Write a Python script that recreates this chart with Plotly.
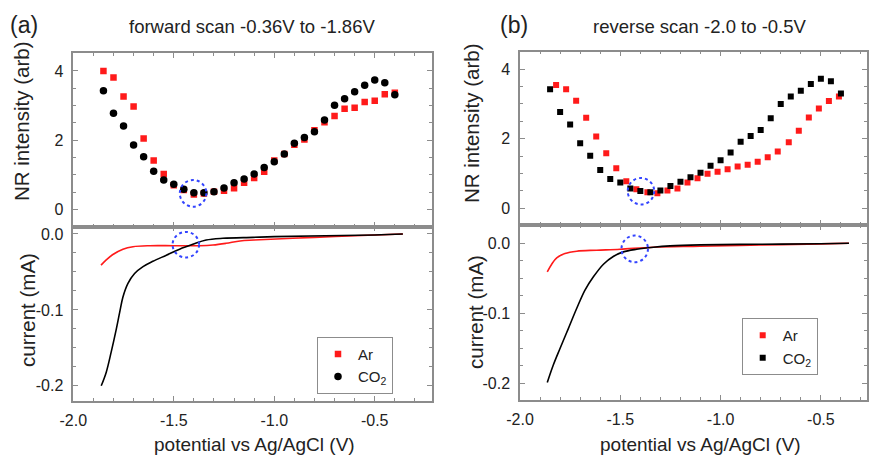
import plotly.graph_objects as go

# ---------------- data ----------------
# NR intensity, panel (a) forward scan
pot_a = [-1.85, -1.80, -1.75, -1.70, -1.65, -1.60, -1.55, -1.50, -1.45, -1.40,
         -1.35, -1.30, -1.25, -1.20, -1.15, -1.10, -1.05, -1.00, -0.95, -0.90,
         -0.85, -0.80, -0.75, -0.70, -0.65, -0.60, -0.55, -0.50, -0.45, -0.40]
nr_a_ar = [4.00, 3.81, 3.26, 2.97, 2.05, 1.41, 1.02, 0.70, 0.56, 0.43,
           0.46, 0.51, 0.54, 0.61, 0.77, 0.91, 1.09, 1.41, 1.60, 1.87,
           2.02, 2.29, 2.52, 2.70, 2.91, 2.94, 3.10, 3.14, 3.33, 3.37]
nr_a_co2 = [3.43, 2.78, 2.41, 1.86, 1.52, 1.10, 0.85, 0.73, 0.58, 0.48,
            0.48, 0.51, 0.62, 0.77, 0.88, 1.02, 1.21, 1.38, 1.60, 1.91,
            2.08, 2.24, 2.58, 3.01, 3.20, 3.40, 3.59, 3.74, 3.66, 3.31]

# NR intensity, panel (b) reverse scan
pot_b_co2 = pot_a
nr_b_co2 = [3.42, 2.77, 2.41, 1.87, 1.51, 1.10, 0.84, 0.74, 0.57, 0.50,
            0.46, 0.51, 0.64, 0.76, 0.89, 1.02, 1.22, 1.38, 1.60, 1.91,
            2.08, 2.25, 2.59, 3.00, 3.21, 3.38, 3.57, 3.72, 3.65, 3.30]
pot_b_ar = [-1.82, -1.77, -1.72, -1.67, -1.62, -1.57, -1.52, -1.47, -1.42, -1.365,
            -1.315, -1.265, -1.215, -1.165, -1.115, -1.065, -1.015, -0.965, -0.915, -0.865,
            -0.815, -0.765, -0.715, -0.66, -0.61, -0.56, -0.51, -0.46, -0.41]
nr_b_ar = [3.54, 3.42, 3.09, 2.60, 2.06, 1.58, 1.15, 0.78, 0.55, 0.46,
           0.43, 0.51, 0.57, 0.74, 0.86, 0.99, 1.05, 1.12, 1.20, 1.25,
           1.34, 1.47, 1.63, 1.90, 2.23, 2.61, 2.87, 3.08, 3.21]

# current curves, panel (a)
cv_a_ar_x = [-1.862, -1.836, -1.803, -1.753, -1.703, -1.62, -1.50, -1.37, -1.305,
             -1.24, -1.17, -1.10, -0.80, -0.50, -0.36]
cv_a_ar_y = [-0.041, -0.034, -0.027, -0.020, -0.0167, -0.0154, -0.0154, -0.0154, -0.0145,
             -0.0123, -0.0092, -0.008, -0.0044, -0.0013, 0.0]
cv_a_co2_x = [-1.861, -1.836, -1.811, -1.789, -1.769, -1.753, -1.728, -1.695, -1.653,
              -1.604, -1.537, -1.471, -1.405, -1.339, -1.256, -1.106, -1.0, -0.5, -0.36]
cv_a_co2_y = [-0.200, -0.182, -0.155, -0.129, -0.103, -0.083, -0.065, -0.052, -0.043,
              -0.036, -0.028, -0.020, -0.0136, -0.008, -0.0057, -0.0044, -0.0035, -0.0013, 0.0]

# current curves, panel (b)
cv_b_ar_x = [-1.864, -1.842, -1.817, -1.776, -1.717, -1.618, -1.501, -1.335, -1.102,
             -0.8, -0.5, -0.36]
cv_b_ar_y = [-0.041, -0.030, -0.021, -0.0148, -0.0114, -0.010, -0.0086, -0.0057, -0.0043,
             -0.0025, -0.001, 0.0]
cv_b_co2_x = [-1.864, -1.834, -1.80, -1.759, -1.717, -1.676, -1.634, -1.584, -1.535,
              -1.485, -1.418, -1.335, -1.252, -1.102, -0.8, -0.5, -0.36]
cv_b_co2_y = [-0.199, -0.174, -0.150, -0.122, -0.093, -0.067, -0.048, -0.030, -0.019,
              -0.0124, -0.0086, -0.0057, -0.0038, -0.0024, -0.0015, -0.0008, 0.0]

x_ticks = [-2.0, -1.5, -1.0, -0.5]
x_tick_text = ["-2.0", "-1.5", "-1.0", "-0.5"]
nr_ticks = [0, 2, 4]
cur_ticks = [0.0, -0.1, -0.2]
cur_tick_text = ["0.0", "-0.1", "-0.2"]

# ---------------- styling ----------------
W, H = 870, 457
RED = "#ff1a1a"
BLK = "#000000"
FRAME = "#8c8c8c"
TXT = "#222222"
FONT = "Liberation Sans, Arial, sans-serif"


def px(xp):
    return xp / W


def py(yp):
    return 1 - yp / H


fig = go.Figure()

# panel (a) top
fig.add_trace(go.Scatter(x=pot_a, y=nr_a_ar, mode="markers", name="Ar",
                         marker=dict(symbol="square", size=6.5, color=RED),
                         xaxis="x", yaxis="y", legend="legend"))
fig.add_trace(go.Scatter(x=pot_a, y=nr_a_co2, mode="markers", name="CO<sub>2</sub>",
                         marker=dict(symbol="circle", size=7.5, color=BLK),
                         xaxis="x", yaxis="y", legend="legend"))
# panel (a) bottom
fig.add_trace(go.Scatter(x=cv_a_ar_x, y=cv_a_ar_y, mode="lines", showlegend=False,
                         line=dict(color=RED, width=1.6, shape="spline"),
                         xaxis="x2", yaxis="y2"))
fig.add_trace(go.Scatter(x=cv_a_co2_x, y=cv_a_co2_y, mode="lines", showlegend=False,
                         line=dict(color=BLK, width=1.6, shape="spline"),
                         xaxis="x2", yaxis="y2"))
# panel (b) top
fig.add_trace(go.Scatter(x=pot_b_ar, y=nr_b_ar, mode="markers", name="Ar",
                         marker=dict(symbol="square", size=6, color=RED),
                         xaxis="x3", yaxis="y3", legend="legend2"))
fig.add_trace(go.Scatter(x=pot_b_co2, y=nr_b_co2, mode="markers", name="CO<sub>2</sub>",
                         marker=dict(symbol="square", size=6, color=BLK),
                         xaxis="x3", yaxis="y3", legend="legend2"))
# panel (b) bottom
fig.add_trace(go.Scatter(x=cv_b_ar_x, y=cv_b_ar_y, mode="lines", showlegend=False,
                         line=dict(color=RED, width=1.6, shape="spline"),
                         xaxis="x4", yaxis="y4"))
fig.add_trace(go.Scatter(x=cv_b_co2_x, y=cv_b_co2_y, mode="lines", showlegend=False,
                         line=dict(color=BLK, width=1.6, shape="spline"),
                         xaxis="x4", yaxis="y4"))

common = dict(showline=True, linecolor=FRAME, linewidth=1.5, mirror="ticks",
              ticks="inside", ticklen=5, tickcolor=FRAME, tickwidth=1,
              showgrid=False, zeroline=False, automargin=False,
              tickfont=dict(family=FONT, size=16, color=TXT))


def xax(domain, rng, anchor, labels):
    d = dict(common)
    d.update(domain=domain, range=rng, anchor=anchor,
             tickvals=x_ticks, ticktext=x_tick_text, showticklabels=labels,
             minor=dict(dtick=0.1, tick0=-2.0, ticks="inside", ticklen=3,
                        tickcolor=FRAME, showgrid=False),
             ticklabelstandoff=4)
    return d


def yax(domain, rng, anchor, vals, text, minor_dt):
    d = dict(common)
    d.update(domain=domain, range=rng, anchor=anchor, tickvals=vals,
             minor=dict(dtick=minor_dt, tick0=0, ticks="inside", ticklen=3,
                        tickcolor=FRAME, showgrid=False),
             ticklabelstandoff=5)
    if text is not None:
        d["ticktext"] = text
    return d


xa_dom = [px(73.3), px(432)]
xb_dom = [px(520), px(867)]
rng_a = [-2.0, -0.215]
rng_b = [-2.0, -0.27]

fig.update_layout(
    template="none",
    width=W, height=H,
    margin=dict(l=0, r=0, t=0, b=0, autoexpand=False),
    paper_bgcolor="white", plot_bgcolor="white",
    font=dict(family=FONT, color=TXT),
    xaxis=xax(xa_dom, rng_a, "y", False),
    xaxis2=xax(xa_dom, rng_a, "y2", True),
    xaxis3=xax(xb_dom, rng_b, "y3", False),
    xaxis4=xax(xb_dom, rng_b, "y4", True),
    yaxis=yax([py(226.7), py(53.3)], [-0.5, 4.51], "x", nr_ticks, None, 0.5),
    yaxis2=yax([py(401), py(226.7)], [-0.220, 0.0096], "x2", cur_ticks, cur_tick_text, 0.025),
    yaxis3=yax([py(225), py(51.7)], [-0.48, 4.5], "x3", nr_ticks, None, 0.5),
    yaxis4=yax([py(400), py(225)], [-0.224, 0.026], "x4", cur_ticks, cur_tick_text, 0.025),
    legend=dict(x=px(317), y=py(336.7), xanchor="left", yanchor="top",
                bgcolor="white", bordercolor=FRAME, borderwidth=1,
                font=dict(family=FONT, size=15, color=TXT),
                itemwidth=30, tracegroupgap=0),
    legend2=dict(x=px(741.7), y=py(318), xanchor="left", yanchor="top",
                 bgcolor="white", bordercolor=FRAME, borderwidth=1,
                 font=dict(family=FONT, size=15, color=TXT),
                 itemwidth=30, tracegroupgap=0),
)

# dotted highlight circles
circles = [
    ("x", "y", -1.404, 0.463, 0.066, 0.385),
    ("x2", "y2", -1.440, -0.0141, 0.066, 0.0168),
    ("x3", "y3", -1.397, 0.491, 0.066, 0.38),
    ("x4", "y4", -1.428, -0.0081, 0.066, 0.019),
]
for xr, yr, cx, cy, hw, hh in circles:
    fig.add_shape(type="circle", xref=xr, yref=yr,
                  x0=cx - hw, x1=cx + hw, y0=cy - hh, y1=cy + hh,
                  line=dict(color="#3344ff", width=2, dash="dot"))

# text annotations
ann = [
    ("(a)", 24, 25, 23, 0),
    ("forward scan -0.36V to -1.86V", 252, 26, 18.5, 0),
    ("(b)", 514, 25, 23, 0),
    ("reverse scan -2.0 to -0.5V", 700, 26, 18.5, 0),
    ("NR intensity (arb)", 21, 121, 20.5, -90),
    ("current (mA)", 27, 310, 20.5, -90),
    ("NR intensity (arb)", 472, 123, 20.5, -90),
    ("current (mA)", 475, 312, 20.5, -90),
    ("potential vs Ag/AgCl (V)", 254, 444, 19, 0),
    ("potential vs Ag/AgCl (V)", 700, 444, 19, 0),
]
for text, xp, yp, size, ang in ann:
    fig.add_annotation(text=text, x=px(xp), y=py(yp), xref="paper", yref="paper",
                       xanchor="center", yanchor="middle", showarrow=False,
                       textangle=ang, font=dict(family=FONT, size=size, color=TXT))

fig.write_html("out.html",
               config={"displayModeBar": False},
               post_script="document.body.style.margin='0px';"
                           "document.body.style.overflow='hidden';")
